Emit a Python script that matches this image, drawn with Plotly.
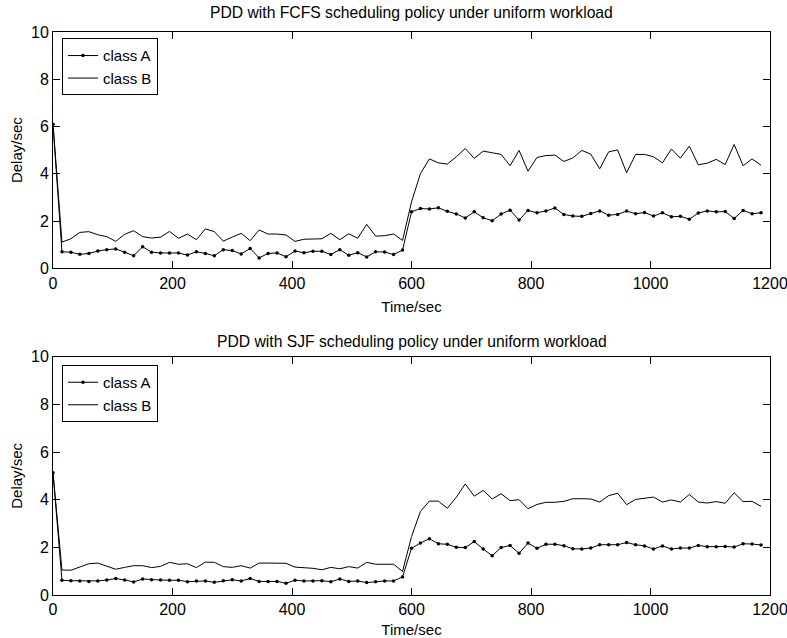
import plotly.graph_objects as go

# Sample times (s)
time_s = list(range(0, 1200, 15))

# FCFS (top panel)
fcfs_class_a = [6.10,
    0.70, 0.68, 0.59, 0.63, 0.73, 0.79, 0.82, 0.68, 0.53, 0.91, 0.68, 0.65, 0.65, 0.65,
    0.56, 0.70, 0.63, 0.53, 0.79, 0.75, 0.61, 0.84, 0.44, 0.63, 0.65, 0.49, 0.73,
    0.66, 0.72, 0.72, 0.58, 0.79, 0.55, 0.66, 0.48, 0.70, 0.69, 0.58, 0.77,
    2.39, 2.53, 2.51, 2.56, 2.41, 2.30, 2.13, 2.39, 2.14, 2.01, 2.30, 2.46, 2.04, 2.45, 2.35,
    2.43, 2.55, 2.28, 2.21, 2.20, 2.32, 2.43, 2.25, 2.28, 2.42, 2.31, 2.36, 2.21, 2.35,
    2.18, 2.20, 2.08, 2.34, 2.43, 2.39, 2.40, 2.11, 2.45, 2.31, 2.35]
fcfs_class_b = [6.10,
    1.11, 1.25, 1.52, 1.55, 1.42, 1.34, 1.14, 1.44, 1.59, 1.34, 1.28, 1.32, 1.56, 1.27,
    1.45, 1.21, 1.67, 1.55, 1.15, 1.32, 1.48, 1.17, 1.62, 1.45, 1.45, 1.41, 1.14,
    1.23, 1.23, 1.25, 1.48, 1.21, 1.46, 1.27, 1.86, 1.36, 1.38, 1.45, 1.18,
    2.81, 4.01, 4.63, 4.46, 4.41, 4.72, 5.07, 4.65, 4.96, 4.89, 4.82, 4.34, 4.99, 4.11, 4.69,
    4.77, 4.79, 4.52, 4.67, 4.99, 4.83, 4.21, 4.93, 5.01, 4.04, 4.82, 4.82, 4.72, 4.46,
    5.05, 4.66, 5.17, 4.38, 4.45, 4.61, 4.39, 5.24, 4.34, 4.63, 4.36]

# SJF (bottom panel)
sjf_class_a = [5.13,
    0.62, 0.60, 0.59, 0.57, 0.59, 0.63, 0.69, 0.63, 0.55, 0.67, 0.64, 0.63, 0.62, 0.62,
    0.56, 0.59, 0.59, 0.53, 0.60, 0.64, 0.59, 0.69, 0.57, 0.57, 0.57, 0.49, 0.62,
    0.59, 0.59, 0.60, 0.56, 0.67, 0.57, 0.59, 0.52, 0.56, 0.59, 0.59, 0.76,
    1.96, 2.18, 2.36, 2.15, 2.13, 2.00, 1.99, 2.24, 1.93, 1.65, 1.99, 2.08, 1.75, 2.18, 1.96,
    2.13, 2.13, 2.07, 1.94, 1.93, 1.97, 2.11, 2.11, 2.11, 2.20, 2.11, 2.06, 1.93, 2.06,
    1.93, 1.97, 1.97, 2.08, 2.03, 2.03, 2.04, 2.01, 2.15, 2.14, 2.10]
sjf_class_b = [5.13,
    1.05, 1.04, 1.19, 1.31, 1.34, 1.22, 1.08, 1.16, 1.23, 1.23, 1.15, 1.20, 1.37, 1.29,
    1.31, 1.15, 1.38, 1.37, 1.19, 1.16, 1.23, 1.13, 1.34, 1.34, 1.33, 1.33, 1.17,
    1.15, 1.12, 1.06, 1.16, 1.10, 1.19, 1.13, 1.37, 1.29, 1.29, 1.29, 0.99,
    2.45, 3.51, 3.94, 3.94, 3.64, 4.10, 4.66, 4.15, 4.39, 4.03, 4.25, 3.96, 4.00, 3.62, 3.80,
    3.89, 3.89, 3.93, 4.04, 4.04, 4.03, 3.90, 4.17, 4.27, 3.79, 4.01, 4.07, 4.11, 3.90,
    3.99, 3.90, 4.22, 3.90, 3.86, 3.92, 3.85, 4.29, 3.92, 3.93, 3.72]

x_ticks = [0, 200, 400, 600, 800, 1000, 1200]
y_ticks = [0, 2, 4, 6, 8, 10]
titles = ["PDD with FCFS scheduling policy under uniform workload",
          "PDD with SJF scheduling policy under uniform workload"]

FONT = "Liberation Sans, Arial, Helvetica, sans-serif"

fig = go.Figure()
line = dict(color="black", width=1)
mk = dict(color="black", size=3.5)
fig.add_trace(go.Scatter(x=time_s, y=fcfs_class_a, name="class A", mode="lines+markers",
                         line=line, marker=mk, xaxis="x", yaxis="y", legend="legend"))
fig.add_trace(go.Scatter(x=time_s, y=fcfs_class_b, name="class B", mode="lines",
                         line=line, xaxis="x", yaxis="y", legend="legend"))
fig.add_trace(go.Scatter(x=time_s, y=sjf_class_a, name="class A", mode="lines+markers",
                         line=line, marker=mk, xaxis="x2", yaxis="y2", legend="legend2"))
fig.add_trace(go.Scatter(x=time_s, y=sjf_class_b, name="class B", mode="lines",
                         line=line, xaxis="x2", yaxis="y2", legend="legend2"))

H_PLOT = 563.0
def py(pix):
    return (595.0 - pix) / H_PLOT

xa = dict(range=[0, 1200], tickvals=x_ticks, ticks="inside", ticklen=7, tickcolor="black",
          showline=True, linecolor="black", linewidth=1, mirror="ticks",
          showgrid=False, zeroline=False, tickfont=dict(size=16, color="black"),
          ticklabeloverflow="allow", automargin=False,
          title=dict(text="Time/sec", font=dict(size=15, color="black"), standoff=10))
ya = dict(range=[0, 10], tickvals=y_ticks, ticks="inside", ticklen=7, tickcolor="black",
          showline=True, linecolor="black", linewidth=1, mirror="ticks",
          showgrid=False, zeroline=False, tickfont=dict(size=16, color="black"),
          automargin=False,
          title=dict(text="Delay/sec", font=dict(size=15, color="black"), standoff=4))

legend_style = dict(bgcolor="white", bordercolor="black", borderwidth=1,
                    font=dict(size=15, color="black", family=FONT),
                    xanchor="left", yanchor="top", tracegroupgap=0, itemwidth=30)

fig.update_layout(
    width=787, height=638,
    margin=dict(l=53, r=17, t=32, b=43, autoexpand=False),
    paper_bgcolor="white", plot_bgcolor="white",
    font=dict(family=FONT, color="black"),
    xaxis=dict(**xa, domain=[0, 1], anchor="y"),
    yaxis=dict(**ya, domain=[py(268.3), 1], anchor="x"),
    xaxis2=dict(**xa, domain=[0, 1], anchor="y2"),
    yaxis2=dict(**ya, domain=[0, py(356.7)], anchor="x2"),
    legend=dict(**legend_style, x=(62 - 53) / 717, y=py(38.3)),
    legend2=dict(**legend_style, x=(62 - 53) / 717, y=py(365)),
    showlegend=True,
    annotations=[
        dict(text=titles[0], xref="paper", yref="paper", x=0.5, y=py(12.5),
             xanchor="center", yanchor="middle", showarrow=False,
             font=dict(size=15.7, color="black")),
        dict(text=titles[1], xref="paper", yref="paper", x=0.5, y=py(341),
             xanchor="center", yanchor="middle", showarrow=False,
             font=dict(size=15.7, color="black")),
    ],
)

fig.write_html("out.html")
